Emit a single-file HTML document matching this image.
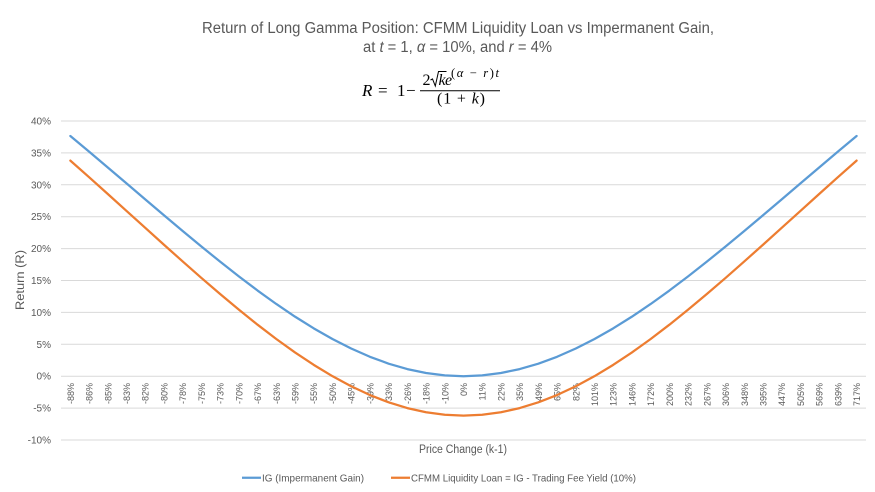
<!DOCTYPE html>
<html><head><meta charset="utf-8"><style>
html,body{margin:0;padding:0;background:#fff;}
svg{display:block;}
text{font-family:"Liberation Sans",sans-serif;fill:#595959;}
.m{font-family:"Liberation Serif",serif;fill:#000;}
</style></head><body>
<svg width="875" height="492" viewBox="0 0 875 492" xmlns="http://www.w3.org/2000/svg">
<rect width="875" height="492" fill="#fff"/>
<!-- title -->
<text x="202" y="33" font-size="15.5" textLength="512" lengthAdjust="spacingAndGlyphs">Return of Long Gamma Position: CFMM Liquidity Loan vs Impermanent Gain,</text>
<text x="363" y="52" font-size="15.5" textLength="189" lengthAdjust="spacingAndGlyphs">at <tspan font-style="italic">t</tspan> = 1, <tspan font-style="italic">α</tspan> = 10%, and <tspan font-style="italic">r</tspan> = 4%</text>
<!-- formula -->
<text class="m" x="362" y="96" font-size="17" font-style="italic">R</text>
<text class="m" x="378" y="96" font-size="17">=</text>
<text class="m" x="397" y="96" font-size="17">1</text>
<text class="m" x="406" y="96" font-size="17">−</text>
<line x1="420" y1="90.7" x2="500" y2="90.7" stroke="#000" stroke-width="1"/>
<text class="m" x="422.5" y="85" font-size="16">2</text>
<path d="M430.5,80 L432.5,79 L435.3,86 L438.5,71.5 L446.5,71.5" fill="none" stroke="#000" stroke-width="1"/>
<text class="m" x="438.5" y="85" font-size="16" font-style="italic">k</text>
<text class="m" x="445" y="85" font-size="16" font-style="italic">e</text>
<text class="m" x="451" y="77" font-size="12.5" textLength="48" lengthAdjust="spacing">(<tspan font-style="italic">α</tspan> − <tspan font-style="italic">r</tspan>)<tspan font-style="italic">t</tspan></text>
<text class="m" x="437" y="103.5" font-size="16" textLength="48" lengthAdjust="spacing">(1 + <tspan font-style="italic">k</tspan>)</text>
<!-- gridlines -->
<g stroke="#d9d9d9" stroke-width="1">
<line x1="61" x2="866" y1="121" y2="121"/>
<line x1="61" x2="866" y1="152.9" y2="152.9"/>
<line x1="61" x2="866" y1="184.8" y2="184.8"/>
<line x1="61" x2="866" y1="216.7" y2="216.7"/>
<line x1="61" x2="866" y1="248.6" y2="248.6"/>
<line x1="61" x2="866" y1="280.5" y2="280.5"/>
<line x1="61" x2="866" y1="312.4" y2="312.4"/>
<line x1="61" x2="866" y1="344.3" y2="344.3"/>
<line x1="61" x2="866" y1="376.2" y2="376.2"/>
<line x1="61" x2="866" y1="408.1" y2="408.1"/>
<line x1="61" x2="866" y1="440" y2="440"/>
</g>
<!-- y labels -->
<g font-size="10" text-anchor="end">
<text x="51" y="124.5">40%</text>
<text x="51" y="156.4">35%</text>
<text x="51" y="188.3">30%</text>
<text x="51" y="220.2">25%</text>
<text x="51" y="252.1">20%</text>
<text x="51" y="284">15%</text>
<text x="51" y="315.9">10%</text>
<text x="51" y="347.8">5%</text>
<text x="51" y="379.7">0%</text>
<text x="51" y="411.6">-5%</text>
<text x="51" y="443.5">-10%</text>
</g>
<text transform="translate(24,280) rotate(-90)" font-size="11.5" text-anchor="middle" textLength="60" lengthAdjust="spacingAndGlyphs">Return (R)</text>
<!-- x labels -->
<g font-size="9" text-anchor="end">
<text transform="translate(73.86,383) rotate(-90)">-88%</text>
<text transform="translate(92.58,383) rotate(-90)">-86%</text>
<text transform="translate(111.30,383) rotate(-90)">-85%</text>
<text transform="translate(130.02,383) rotate(-90)">-83%</text>
<text transform="translate(148.74,383) rotate(-90)">-82%</text>
<text transform="translate(167.46,383) rotate(-90)">-80%</text>
<text transform="translate(186.18,383) rotate(-90)">-78%</text>
<text transform="translate(204.90,383) rotate(-90)">-75%</text>
<text transform="translate(223.62,383) rotate(-90)">-73%</text>
<text transform="translate(242.34,383) rotate(-90)">-70%</text>
<text transform="translate(261.06,383) rotate(-90)">-67%</text>
<text transform="translate(279.78,383) rotate(-90)">-63%</text>
<text transform="translate(298.50,383) rotate(-90)">-59%</text>
<text transform="translate(317.22,383) rotate(-90)">-55%</text>
<text transform="translate(335.94,383) rotate(-90)">-50%</text>
<text transform="translate(354.66,383) rotate(-90)">-45%</text>
<text transform="translate(373.38,383) rotate(-90)">-39%</text>
<text transform="translate(392.10,383) rotate(-90)">-33%</text>
<text transform="translate(410.82,383) rotate(-90)">-26%</text>
<text transform="translate(429.54,383) rotate(-90)">-18%</text>
<text transform="translate(448.26,383) rotate(-90)">-10%</text>
<text transform="translate(466.98,383) rotate(-90)">0%</text>
<text transform="translate(485.70,383) rotate(-90)">11%</text>
<text transform="translate(504.42,383) rotate(-90)">22%</text>
<text transform="translate(523.14,383) rotate(-90)">35%</text>
<text transform="translate(541.86,383) rotate(-90)">49%</text>
<text transform="translate(560.58,383) rotate(-90)">65%</text>
<text transform="translate(579.30,383) rotate(-90)">82%</text>
<text transform="translate(598.02,383) rotate(-90)">101%</text>
<text transform="translate(616.74,383) rotate(-90)">123%</text>
<text transform="translate(635.46,383) rotate(-90)">146%</text>
<text transform="translate(654.18,383) rotate(-90)">172%</text>
<text transform="translate(672.90,383) rotate(-90)">200%</text>
<text transform="translate(691.62,383) rotate(-90)">232%</text>
<text transform="translate(710.34,383) rotate(-90)">267%</text>
<text transform="translate(729.06,383) rotate(-90)">306%</text>
<text transform="translate(747.78,383) rotate(-90)">348%</text>
<text transform="translate(766.50,383) rotate(-90)">395%</text>
<text transform="translate(785.22,383) rotate(-90)">447%</text>
<text transform="translate(803.94,383) rotate(-90)">505%</text>
<text transform="translate(822.66,383) rotate(-90)">569%</text>
<text transform="translate(841.38,383) rotate(-90)">639%</text>
<text transform="translate(860.10,383) rotate(-90)">717%</text>
</g>
<text x="463" y="453" font-size="11.5" text-anchor="middle" textLength="88" lengthAdjust="spacingAndGlyphs">Price Change (k-1)</text>
<!-- series -->
<polyline fill="none" stroke="#5B9BD5" stroke-width="2.25" stroke-linejoin="round" stroke-linecap="round" points="70.36,136.01 89.08,151.66 107.80,167.48 126.52,183.39 145.24,199.34 163.96,215.23 182.68,230.99 201.40,246.50 220.12,261.67 238.84,276.39 257.56,290.53 276.28,303.99 295.00,316.64 313.72,328.35 332.44,339.02 351.16,348.53 369.88,356.77 388.60,363.65 407.32,369.09 426.04,373.02 444.76,375.40 463.48,376.20 482.20,375.40 500.92,373.02 519.64,369.09 538.36,363.65 557.08,356.77 575.80,348.53 594.52,339.02 613.24,328.35 631.96,316.64 650.68,303.99 669.40,290.53 688.12,276.39 706.84,261.67 725.56,246.50 744.28,230.99 763.00,215.23 781.72,199.34 800.44,183.39 819.16,167.48 837.88,151.66 856.60,136.01"/>
<polyline fill="none" stroke="#ED7D31" stroke-width="2.25" stroke-linejoin="round" stroke-linecap="round" points="70.36,160.60 89.08,177.22 107.80,194.02 126.52,210.92 145.24,227.85 163.96,244.73 182.68,261.46 201.40,277.93 220.12,294.04 238.84,309.66 257.56,324.69 276.28,338.98 295.00,352.41 313.72,364.85 332.44,376.17 351.16,386.27 369.88,395.02 388.60,402.32 407.32,408.10 426.04,412.28 444.76,414.80 463.48,415.65 482.20,414.80 500.92,412.28 519.64,408.10 538.36,402.32 557.08,395.02 575.80,386.27 594.52,376.17 613.24,364.85 631.96,352.41 650.68,338.98 669.40,324.69 688.12,309.66 706.84,294.04 725.56,277.93 744.28,261.46 763.00,244.73 781.72,227.85 800.44,210.92 819.16,194.02 837.88,177.22 856.60,160.60"/>
<!-- legend -->
<line x1="242" y1="477.7" x2="261" y2="477.7" stroke="#5B9BD5" stroke-width="2.25"/>
<text x="262" y="481.5" font-size="10.5" textLength="102" lengthAdjust="spacingAndGlyphs">IG (Impermanent Gain)</text>
<line x1="391" y1="477.7" x2="410" y2="477.7" stroke="#ED7D31" stroke-width="2.25"/>
<text x="411" y="481.5" font-size="10.5" textLength="225" lengthAdjust="spacingAndGlyphs">CFMM Liquidity Loan = IG - Trading Fee Yield (10%)</text>
</svg>
</body></html>
